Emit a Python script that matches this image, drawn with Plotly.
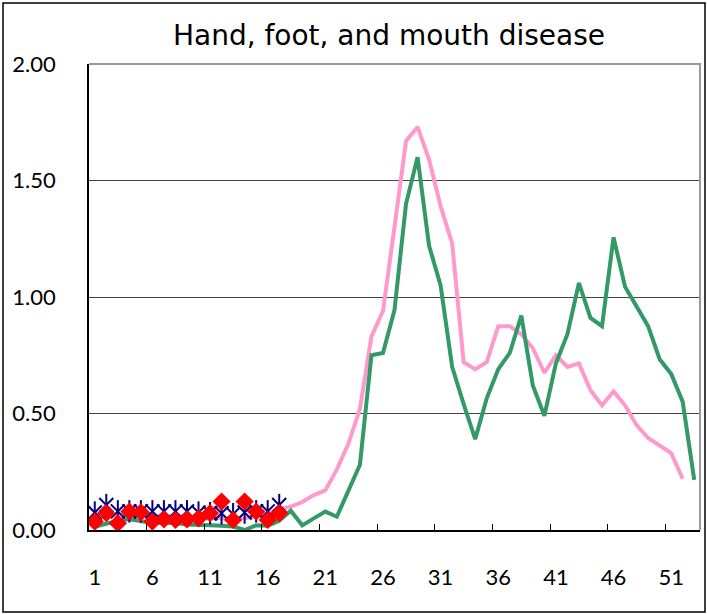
import plotly.graph_objects as go

weeks = list(range(1, 54))
tick_weeks = [1, 6, 11, 16, 21, 26, 31, 36, 41, 46, 51]
boundary_ticks = [w - 0.5 for w in tick_weeks]
y_ticks = [0, 0.5, 1.0, 1.5, 2.0]

pink_series = [0.07, 0.07, 0.06, 0.07, 0.07, 0.06, 0.06, 0.06, 0.06, 0.05,
               0.05, 0.05, 0.05, 0.05, 0.06, 0.07, 0.09, 0.10, 0.12, 0.15,
               0.17, 0.26, 0.37, 0.52, 0.83, 0.94, 1.30, 1.67, 1.73, 1.59,
               1.39, 1.23, 0.72, 0.69, 0.72, 0.875, 0.875, 0.84, 0.78, 0.675,
               0.75, 0.70, 0.715, 0.60, 0.535, 0.595, 0.535, 0.45, 0.395, 0.365,
               0.33, 0.22, None]

green_series = [0.014, 0.025, 0.04, 0.046, 0.036, 0.03, 0.03, 0.03, 0.024, 0.02,
                0.02, 0.018, 0.015, 0.0, 0.02, 0.018, 0.04, 0.083, 0.02, 0.05,
                0.079, 0.057, 0.17, 0.28, 0.75, 0.76, 0.944, 1.40, 1.60, 1.22,
                1.05, 0.70, 0.54, 0.39, 0.565, 0.69, 0.76, 0.92, 0.62, 0.49,
                0.715, 0.84, 1.06, 0.91, 0.875, 1.256, 1.044, 0.958, 0.875, 0.733,
                0.67, 0.55, 0.215]

blue_weeks = list(range(1, 18))
blue_series = [0.075, 0.107, 0.08, 0.08, 0.08, 0.08, 0.08, 0.08, 0.08, 0.075,
               0.072, 0.072, 0.068, 0.075, 0.08, 0.08, 0.107]

red_weeks = list(range(1, 18))
red_series = [0.036, 0.072, 0.029, 0.079, 0.076, 0.036, 0.046, 0.043, 0.046, 0.05,
              0.072, 0.122, 0.043, 0.122, 0.079, 0.043, 0.072]

W, H = 707, 614
ML, MR, MT, MB = 89, 7, 64, 84
PW, PH = W - ML - MR, H - MT - MB
FONT = "Lato, 'DejaVu Sans', sans-serif"
TITLE_FONT = "'DejaVu Sans', sans-serif"

fig = go.Figure()
fig.add_trace(go.Scatter(x=weeks, y=pink_series, mode="lines",
                         line=dict(color="#FF99CC", width=4), connectgaps=False))
fig.add_trace(go.Scatter(x=weeks, y=green_series, mode="lines",
                         line=dict(color="#339966", width=4)))
fig.add_trace(go.Scatter(x=blue_weeks, y=blue_series, mode="markers",
                         marker=dict(symbol="x-thin-open", size=14, color="#000080",
                                     line=dict(color="#000080", width=2))))
fig.add_trace(go.Scatter(x=blue_weeks, y=blue_series, mode="markers",
                         marker=dict(symbol="line-ns-open", size=16, color="#000080",
                                     line=dict(color="#000080", width=2))))
fig.add_trace(go.Scatter(x=red_weeks, y=red_series, mode="markers",
                         marker=dict(symbol="diamond", size=14, color="#FF0000",
                                     line=dict(width=0))))

fig.update_layout(
    width=W, height=H,
    margin=dict(l=ML, r=MR, t=MT, b=MB),
    paper_bgcolor="white", plot_bgcolor="white",
    showlegend=False,
    font=dict(family=FONT, color="black"),
    title=dict(text="Hand, foot, and mouth disease",
               font=dict(family=TITLE_FONT, size=28, color="black"),
               x=(389 - ML) / PW, xref="paper", xanchor="center",
               y=1 - 35 / H, yref="container", yanchor="middle"),
    xaxis=dict(range=[0.5, 53.5], tickmode="array", tickvals=tick_weeks,
               ticktext=[str(w) for w in tick_weeks],
               ticks="", showgrid=False, zeroline=False,
               showline=True, linecolor="black", linewidth=1.5,
               tickfont=dict(size=22, family=FONT, color="black"),
               ticklabelstandoff=27),
    xaxis2=dict(range=[0.5, 53.5], overlaying="x", tickmode="array",
                tickvals=boundary_ticks, showticklabels=False,
                ticks="inside", ticklen=6, tickcolor="black", tickwidth=1,
                showgrid=False, zeroline=False, showline=False, side="bottom"),
    yaxis=dict(range=[0, 2], tickmode="array", tickvals=y_ticks,
               ticktext=[f"{v:.2f}" for v in y_ticks],
               ticks="", showgrid=True, gridcolor="#444444", gridwidth=1.2,
               zeroline=False, showline=True, linecolor="black", linewidth=1.5,
               tickfont=dict(size=22, family=FONT, color="black"),
               ticklabelstandoff=27),
)

# invisible helper trace to activate the tick-mark axis
fig.add_trace(go.Scatter(x=[None], y=[None], xaxis="x2", yaxis="y",
                         mode="markers", showlegend=False, hoverinfo="skip"))

# grey top/right frame of plot area
fig.add_shape(type="path", xref="paper", yref="paper",
              path="M 0,1 L 1,1 L 1,0", line=dict(color="#999999", width=2),
              layer="above")
# outer chart border
fig.add_shape(type="rect", xref="paper", yref="paper",
              x0=-(ML - 3) / PW, x1=1 + (MR - 2) / PW,
              y0=-(MB - 2) / PH, y1=1 + (MT - 3) / PH,
              line=dict(color="black", width=1.5), layer="below")

fig.write_html("out.html", config={"displayModeBar": False},
               post_script="document.body.style.margin='0px';document.body.style.padding='0px';")
